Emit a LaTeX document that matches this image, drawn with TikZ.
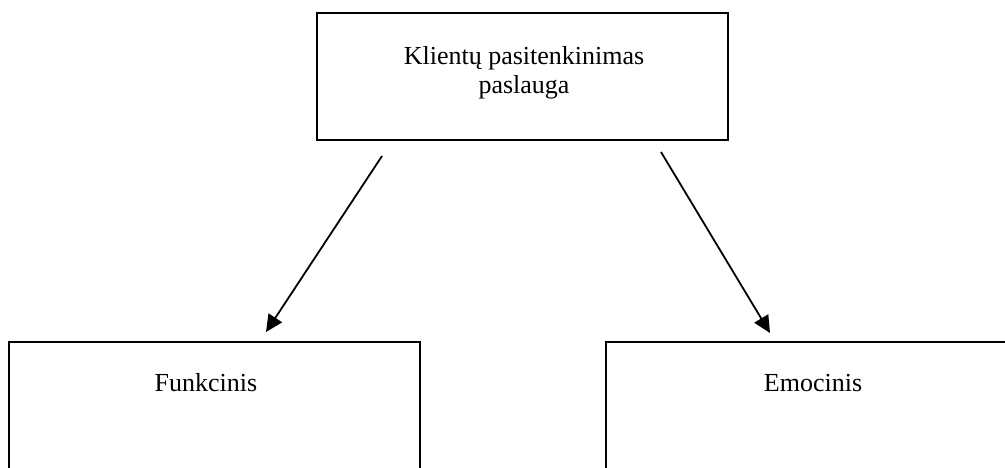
\documentclass[tikz,border=0pt]{standalone}
\usepackage{fontspec}
\setmainfont{Liberation Serif}
\usetikzlibrary{arrows.meta}
\begin{document}
\begin{tikzpicture}[x=1pt,y=-1pt,
  box/.style={draw=black,line width=2.8pt,rectangle,inner sep=0pt},
  lbl/.style={font=\fontsize{26}{29}\selectfont,align=center,inner sep=0pt,anchor=base},
  link/.style={line width=1.8pt,-{Triangle[length=17pt,width=16pt]}}]
  \useasboundingbox (0,0) rectangle (1005,467);
  \clip (0,0) rectangle (1005,467);
  % boxes
  \node[box,minimum width=411pt,minimum height=127pt] (top) at (522.5,76.5) {};
  \node[box,minimum width=411pt,minimum height=160pt] (left) at (214.5,422) {};
  \node[box,minimum width=411pt,minimum height=160pt] (right) at (811.5,422) {};
  % labels (base anchor sits on the last line)
  \node[lbl] (toptext) at (524,93) {Klientų pasitenkinimas\\paslauga};
  \node[lbl] (lefttext) at (206,391.5) {Funkcinis};
  \node[lbl] (righttext) at (813,391.5) {Emocinis};
  % arrow end points
  \coordinate (ls) at (382,156);
  \coordinate (le) at (266,332);
  \coordinate (rs) at (661,152);
  \coordinate (re) at (770,333);
  \draw[link] (ls) -- (le);
  \draw[link] (rs) -- (re);
\end{tikzpicture}
\end{document}
